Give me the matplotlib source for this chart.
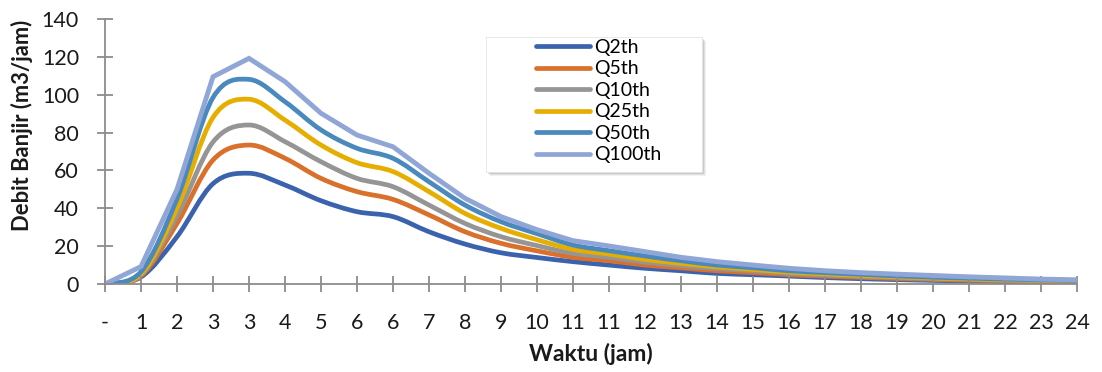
import numpy as np
import matplotlib
matplotlib.use("Agg")
import matplotlib.pyplot as plt
from matplotlib.path import Path
from matplotlib.patches import PathPatch, Rectangle
from matplotlib.lines import Line2D

plt.rcParams['font.family'] = ['Lato', 'DejaVu Sans']

# Time categories (hours) along the x axis
waktu = ["-", "1", "2", "3", "3", "4", "5", "6", "6", "7", "8", "9", "10", "11",
         "11", "12", "13", "14", "15", "16", "17", "18", "19", "20", "21", "22",
         "23", "24"]

# Flood discharge (m3/jam) for each return period
q2 = [0, 3.7, 25, 53, 58.5, 52.3, 44, 38.2, 35.6, 27.6, 21.1, 16.5, 14, 11.8,
      10, 8.3, 7, 5.6, 4.9, 4.2, 3.4, 2.8, 2.3, 1.9, 1.6, 1.3, 1.0, 0.8]
q5 = [0, 4.3, 32, 65.5, 73.4, 66.4, 55.8, 48.8, 44.7, 36.5, 27.6, 21.5, 17.5, 14.1,
      12.3, 10, 8.5, 7, 6, 4.9, 4.1, 3.5, 2.9, 2.4, 2.0, 1.7, 1.4, 1.1]
q10 = [0, 4.8, 36, 75, 84, 75.2, 64.6, 55.8, 51.4, 41.7, 32, 25, 20.3, 16.2,
       14.1, 11.6, 9.7, 8.1, 7, 5.6, 4.7, 4.0, 3.4, 2.8, 2.4, 2.0, 1.7, 1.4]
q25 = [0, 5.2, 40, 88, 97.6, 86.6, 73.4, 64.1, 59.4, 48.8, 37.3, 29.4, 23.4, 18.3,
       15.8, 13, 10.9, 9.1, 7.7, 6.3, 5.3, 4.5, 3.8, 3.2, 2.7, 2.3, 1.9, 1.6]
q50 = [0, 6.5, 45, 98.5, 108.1, 96.3, 81.4, 71.7, 66.4, 54, 41.7, 32.9, 26.6, 20.6,
       17.6, 14.8, 12.3, 10, 8.6, 7, 6.0, 5.1, 4.3, 3.6, 3.1, 2.6, 2.2, 1.9]
q100 = [0, 9.2, 50, 109.5, 119.2, 106.9, 90.2, 78.7, 72.5, 58.5, 45.3, 35.6, 28.7, 22.9,
        20.1, 17.1, 14.1, 11.8, 10, 8.3, 7.0, 6.0, 5.2, 4.5, 3.8, 3.2, 2.6, 2.2]

labels = ["Q2th", "Q5th", "Q10th", "Q25th", "Q50th", "Q100th"]
colors = ["#3A62AD", "#D9702B", "#959595", "#E6AE00", "#4A89BE", "#8FA6D6"]
smooth = [True, True, True, True, True, False]
series = [q2, q5, q10, q25, q50, q100]


def smooth_path(x, y):
    """Catmull-Rom curve through the points, expressed as cubic Bezier segments."""
    pts = np.column_stack([x, y]).astype(float)
    n = len(pts)
    verts = [pts[0]]
    codes = [Path.MOVETO]
    for i in range(n - 1):
        p0 = pts[i - 1] if i > 0 else pts[i]
        p1 = pts[i]
        p2 = pts[i + 1]
        p3 = pts[i + 2] if i + 2 < n else pts[i + 1]
        c1 = p1 + (p2 - p0) / 6.0
        c2 = p2 - (p3 - p1) / 6.0
        verts += [c1, c2, p2]
        codes += [Path.CURVE4] * 3
    return Path(np.array(verts), codes)


W, H = 1102, 372
fig = plt.figure(figsize=(W / 100, H / 100), dpi=100)
ax = fig.add_axes([105 / W, 1 - 284 / H, 972 / W, 265 / H])

x = np.arange(len(waktu))
for vals, col, sm in zip(series, colors, smooth):
    if sm:
        ax.add_patch(PathPatch(smooth_path(x, vals), facecolor="none", edgecolor=col,
                               lw=3.4, capstyle="round", joinstyle="round"))
    else:
        ax.plot(x, vals, color=col, lw=3.5, solid_joinstyle="miter",
                solid_capstyle="butt")

ax.set_xlim(0, len(waktu) - 1)
ax.set_ylim(0, 140)
ax.set_xticks(x)
ax.set_xticklabels(waktu)
ax.set_yticks(np.arange(0, 141, 20))

for s in ["top", "right"]:
    ax.spines[s].set_visible(False)
for s in ["left", "bottom"]:
    ax.spines[s].set_color("#8C8C8C")
    ax.spines[s].set_linewidth(1.3)
ax.tick_params(axis="both", direction="inout", length=11.5, width=1.3,
               color="#8C8C8C", labelsize=15.5, labelcolor="#1a1a1a")
ax.tick_params(axis="x", pad=15)
ax.tick_params(axis="y", pad=13)

fig.text(22 / W, 1 - 125 / H, "Debit Banjir (m3/jam)", rotation=90, ha="center",
         va="center", fontsize=15.8, fontweight="bold", color="#1a1a1a")
fig.text(591 / W, 1 - 354 / H, "Waktu (jam)", ha="center", va="center",
         fontsize=16.5, fontweight="bold", color="#1a1a1a")

# Legend box with a soft drop shadow
bx0, by0, bx1, by1 = 486, 37, 702, 172
for k, a in enumerate([0.05, 0.07, 0.09, 0.11]):
    off = 4 - k
    fig.patches.append(Rectangle(((bx0 + off) / W, 1 - (by1 + off) / H),
                                 (bx1 - bx0) / W, (by1 - by0) / H,
                                 transform=fig.transFigure, facecolor="black",
                                 edgecolor="none", alpha=a, zorder=5))
fig.patches.append(Rectangle((bx0 / W, 1 - by1 / H), (bx1 - bx0) / W, (by1 - by0) / H,
                             transform=fig.transFigure, facecolor="white",
                             edgecolor="#E4E4E4", lw=0.6, zorder=6))

handles = [Line2D([], [], color=c, lw=3.4, solid_capstyle="round") for c in colors]
leg = fig.legend(handles, labels, loc="upper left",
                 bbox_to_anchor=(536 / W, 1 - 39 / H), frameon=False,
                 fontsize=14, handlelength=2.78, handletextpad=0.22,
                 labelspacing=0.23, borderpad=0, borderaxespad=0)
leg.set_zorder(7)

fig.savefig("out.png", dpi=100)
